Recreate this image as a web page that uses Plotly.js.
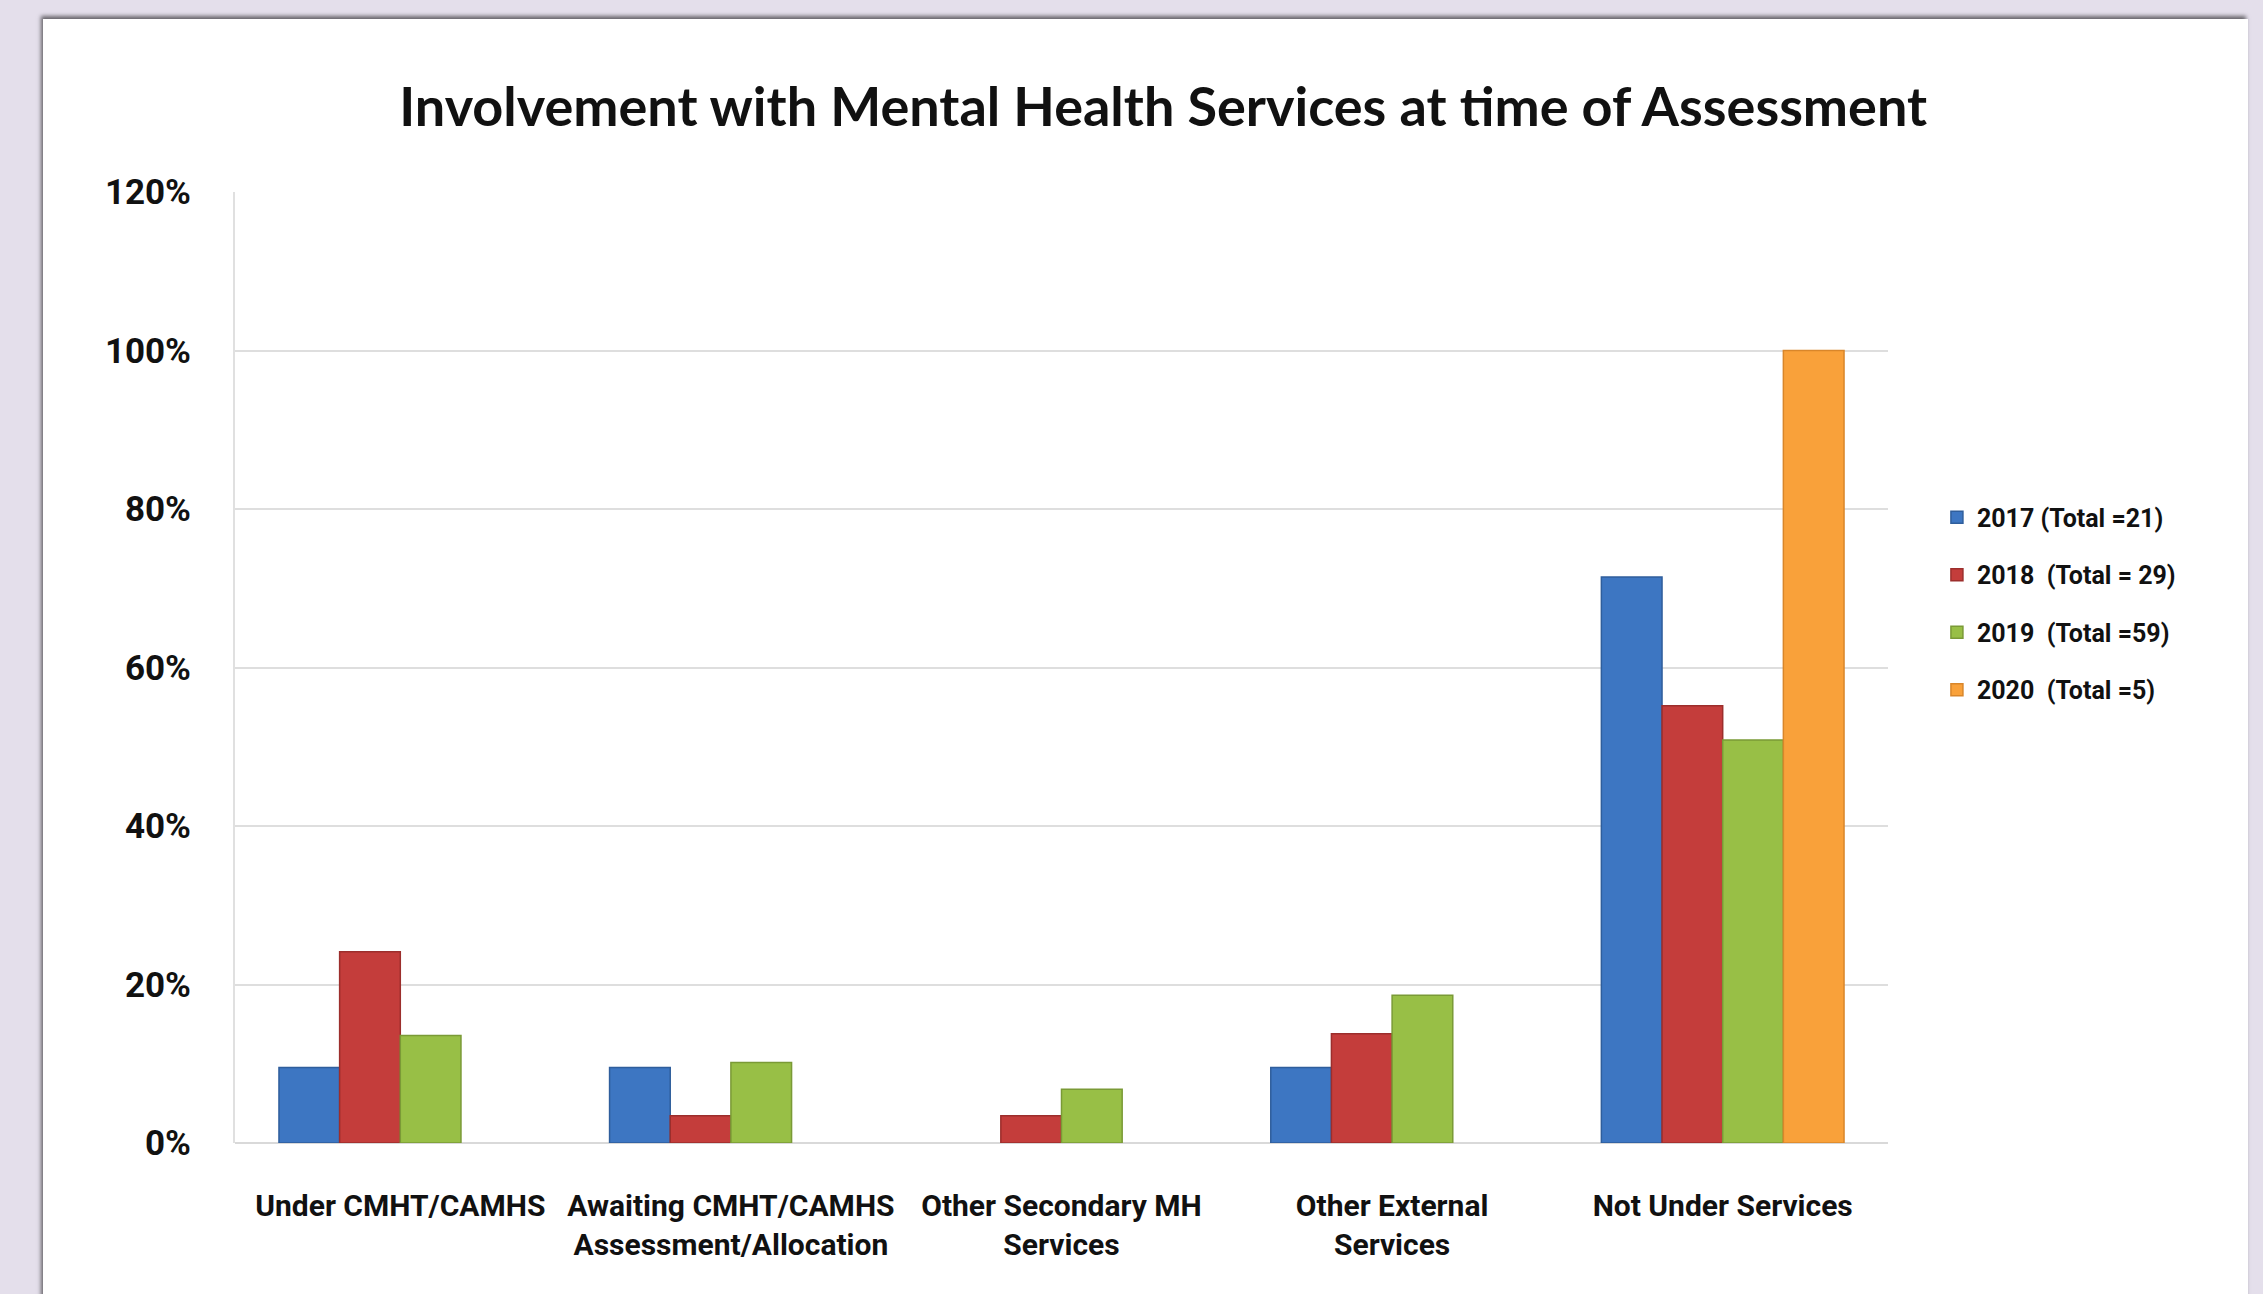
<!DOCTYPE html>
<html>
<head>
<meta charset="utf-8">
<script src="https://cdn.plot.ly/plotly-3.0.1.min.js"></script>
<style>
  html, body { margin:0; padding:0; width:2263px; height:1294px; background:#e4dfeb; overflow:hidden; }
  #panel { position:absolute; left:43px; top:19px; width:2205px; height:1320px; background:#ffffff;
           box-shadow: -2px -3px 4px rgba(0,0,0,0.55); }
  #chart { position:absolute; left:0; top:0; width:2263px; height:1294px; }
</style>
</head>
<body>
<div id="panel"></div>
<div id="chart"></div>
<script>
const categories = [
  "Under CMHT/CAMHS",
  "Awaiting CMHT/CAMHS<br>Assessment/Allocation",
  "Other Secondary MH<br>Services",
  "Other External<br>Services",
  "Not Under Services"
];
const seriesNames = ["2017 (Total =21)", "2018  (Total = 29)", "2019  (Total =59)", "2020  (Total =5)"];
const values2017 = [0.0952, 0.0952, null, 0.0952, 0.7143];
const values2018 = [0.2414, 0.0345, 0.0345, 0.1379, 0.5517];
const values2019 = [0.1356, 0.1017, 0.0678, 0.1864, 0.5085];
const values2020 = [null, null, null, null, 1.0];
const yTicks = [0, 0.2, 0.4, 0.6, 0.8, 1.0, 1.2];

const fills = ["#3d76c2", "#c43d3b", "#98bf46", "#f9a13a"];
const edges = ["#2f5e9c", "#9c2e2c", "#7a9a36", "#d9862a"];
const allValues = [values2017, values2018, values2019, values2020];

const labelFont = "Roboto, 'Liberation Sans', sans-serif";

const traces = allValues.map((vals, i) => ({
  type: "bar",
  name: seriesNames[i],
  x: categories,
  y: vals,
  legendgroup: "g" + i,
  marker: { color: fills[i], line: { color: edges[i], width: 1.5 } },
  hoverinfo: "x+y+name"
}));

const layout = {
  width: 2263, height: 1294,
  paper_bgcolor: "rgba(0,0,0,0)",
  plot_bgcolor: "rgba(0,0,0,0)",
  margin: { l: 235, r: 375, t: 192, b: 151 },
  barmode: "group",
  bargap: 0.266,
  bargroupgap: 0,
  showlegend: true,
  title: {
    text: "<b>Involvement with Mental Health Services at time of Assessment</b>",
    font: { family: "Lato, 'Open Sans', sans-serif", size: 54, color: "#111" },
    xref: "container", x: 0.514, xanchor: "center",
    yref: "container", y: 0.917, yanchor: "middle"
  },
  xaxis: {
    tickfont: { family: labelFont, size: 30, color: "#111", weight: "bold" },
    tickangle: 0,
    showgrid: false,
    showline: false,
    ticks: "",
    ticklabelstandoff: 42,
    fixedrange: true
  },
  yaxis: {
    range: [0, 1.2],
    tickvals: yTicks,
    tickformat: ".0%",
    tickfont: { family: labelFont, size: 35, color: "#111", weight: "bold" },
    showgrid: true,
    gridcolor: "#dedede",
    gridwidth: 2,
    zeroline: true,
    zerolinecolor: "#d9d9d9",
    zerolinewidth: 2,
    showline: true,
    linecolor: "#e0e0e0",
    linewidth: 2,
    ticks: "",
    ticklabelstandoff: 35,
    fixedrange: true
  },
  legend: {
    x: 1.0296, xanchor: "left",
    y: 0.682, yanchor: "top",
    xref: "paper", yref: "paper",
    font: { family: labelFont, size: 25, color: "#111", weight: "bold" },
    tracegroupgap: 22,
    itemwidth: 30,
    bgcolor: "rgba(0,0,0,0)"
  }
};

Plotly.newPlot("chart", traces, layout, { displayModeBar: false, staticPlot: true });
</script>
</body>
</html>
